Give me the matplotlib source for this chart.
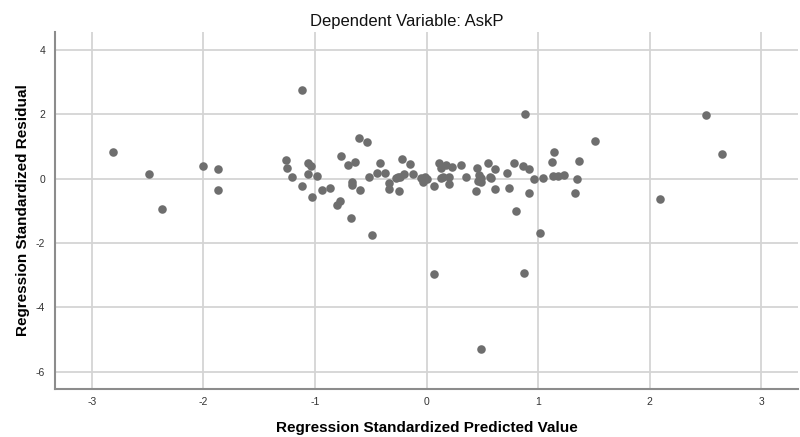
import matplotlib.pyplot as plt

plt.rcParams["font.family"] = ["Liberation Sans", "DejaVu Sans"]
plt.rcParams["axes.unicode_minus"] = False

# Standardized predicted values and standardized residuals, one pair per case
predicted = [
    -2.81, -2.49, -2.37, -2.00, -1.87, -1.87, -1.12, -1.26, -1.25, -1.21,
    -1.12, -1.06, -1.04, -1.06, -0.98, -1.03, -0.94, -0.87, -0.80, -0.78,
    -0.77, -0.70, -0.64, -0.61, -0.53, -0.67, -0.67, -0.60, -0.52, -0.68,
    -0.42, -0.44, -0.37, -0.34, -0.34, -0.26, -0.25, -0.49, -0.22, -0.15,
    -0.27, -0.24, -0.20, -0.12, -0.05, -0.03, -0.01, 0.00, 0.07, 0.11,
    0.13, 0.17, 0.23, 0.13, 0.15, 0.20, 0.20, 0.31, 0.35, 0.45,
    0.47, 0.49, 0.46, 0.49, 0.44, 0.55, 0.61, 0.57, 0.58, 0.61,
    0.72, 0.74, 0.78, 0.86, 0.92, 0.88, 0.80, 0.92, 0.96, 1.04,
    1.12, 1.14, 1.13, 1.18, 1.23, 1.33, 1.35, 1.37, 1.51, 2.09,
    2.50, 2.65, 0.07, 0.87, 1.02, 0.49,
]
residual = [
    0.83, 0.16, -0.95, 0.40, 0.29, -0.35, 2.75, 0.59, 0.33, 0.04,
    -0.24, 0.48, 0.40, 0.14, 0.08, -0.57, -0.34, -0.28, -0.83, -0.69,
    0.70, 0.44, 0.52, 1.27, 1.13, -0.10, -0.21, -0.35, 0.04, -1.23,
    0.48, 0.17, 0.17, -0.14, -0.33, 0.04, -0.37, -1.76, 0.61, 0.45,
    0.03, 0.06, 0.16, 0.14, 0.03, -0.09, 0.06, 0.00, -0.24, 0.49,
    0.32, 0.44, 0.36, 0.03, 0.06, 0.06, -0.16, 0.44, 0.04, 0.34,
    0.10, 0.01, -0.06, -0.11, -0.38, 0.48, 0.30, 0.06, 0.01, -0.31,
    0.17, -0.29, 0.49, 0.40, 0.29, 2.01, -0.99, -0.45, -0.02, 0.02,
    0.51, 0.82, 0.07, 0.09, 0.12, -0.45, -0.02, 0.55, 1.16, -0.62,
    1.97, 0.78, -2.96, -2.92, -1.68, -5.29,
]

x_ticks = [-3, -2, -1, 0, 1, 2, 3]
y_ticks = [-6, -4, -2, 0, 2, 4]

fig = plt.figure(figsize=(8.0, 4.37), dpi=100)
ax = fig.add_axes([0.06875, 0.1098, 0.929, 0.817])

ax.scatter(predicted, residual, s=38, color="#6e6e6e", linewidths=0, zorder=3)

ax.set_xlim(-3.33, 3.33)
ax.set_ylim(-6.54, 4.56)
ax.set_xticks(x_ticks)
ax.set_yticks(y_ticks)
ax.tick_params(length=0, labelsize=7.5, colors="#333333")
ax.tick_params(axis="x", pad=6)
ax.tick_params(axis="y", pad=7)
ax.grid(True, color="#d4d4d4", linewidth=1.3, zorder=0)

for side in ("top", "right"):
    ax.spines[side].set_visible(False)
for side in ("left", "bottom"):
    ax.spines[side].set_color("#8c8c8c")
    ax.spines[side].set_linewidth(1.5)

ax.set_xlabel("Regression Standardized Predicted Value", fontsize=11,
              fontweight="bold", labelpad=10)
ax.set_ylabel("Regression Standardized Residual", fontsize=11,
              fontweight="bold", labelpad=4)
fig.suptitle("Dependent Variable: AskP", x=0.508, y=0.968, fontsize=12,
             color="#111111")

fig.savefig("out.png", dpi=100)
